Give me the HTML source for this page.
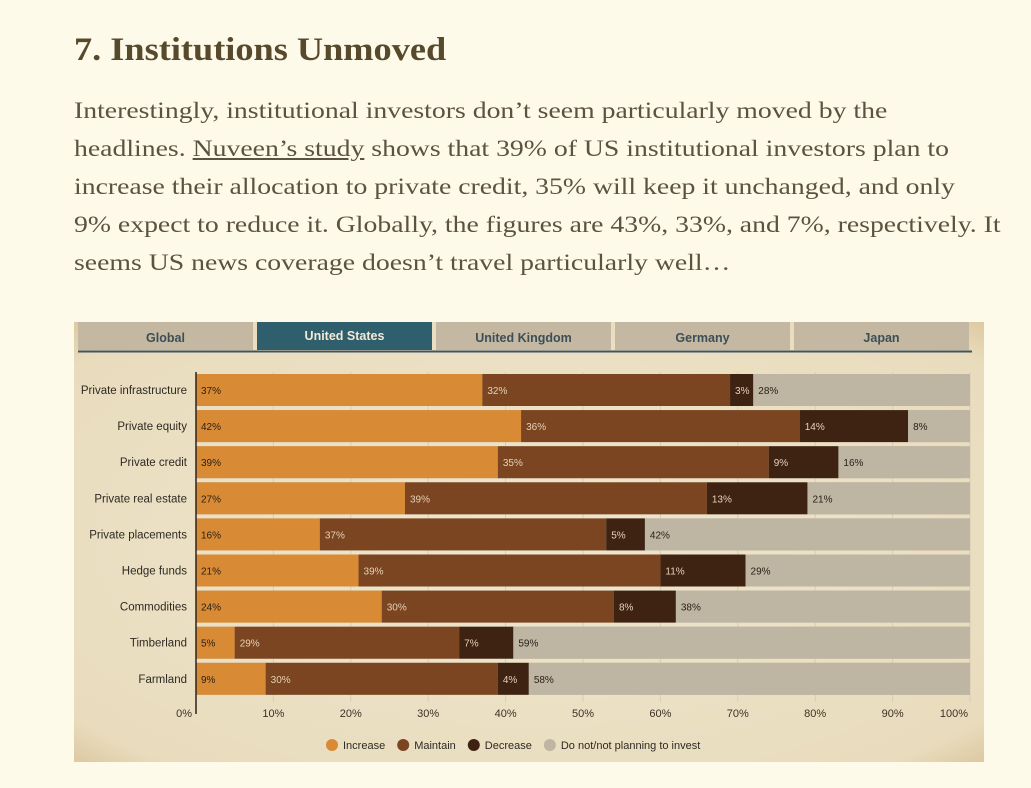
<!DOCTYPE html>
<html><head><meta charset="utf-8"><style>
body{margin:0;width:1031px;height:788px;background:#fefae9;overflow:hidden;font-family:"Liberation Serif",serif}
h2{position:absolute;left:74px;top:32px;margin:0;font-size:33px;font-weight:bold;color:#574a2c;font-family:"Liberation Serif",serif;white-space:nowrap;transform:scaleX(1.1);transform-origin:left top}
p{position:absolute;left:74px;top:92px;margin:0;line-height:38px;color:#5b5340;font-family:"Liberation Serif",serif;font-size:23.5px;white-space:nowrap;transform:scaleX(1.18);transform-origin:left top}
#chart{position:absolute;left:74px;top:322px}
</style></head><body>
<h2>7. Institutions Unmoved</h2>
<p>Interestingly, institutional investors don’t seem particularly moved by the<br>headlines. <u>Nuveen’s study</u> shows that 39% of US institutional investors plan to<br>increase their allocation to private credit, 35% will keep it unchanged, and only<br>9% expect to reduce it. Globally, the figures are 43%, 33%, and 7%, respectively. It<br>seems US news coverage doesn’t travel particularly well…</p>
<svg id="chart" width="910" height="440" font-family="Liberation Sans, sans-serif">
<defs><radialGradient id="bg" cx="50%" cy="50%" r="75%"><stop offset="0" stop-color="#efe6cf"/><stop offset="0.85" stop-color="#e9dcbd"/><stop offset="1" stop-color="#d6bd92"/></radialGradient></defs>
<rect width="910" height="440" fill="url(#bg)"/>
<g id="g"></g>
</svg>
<script>
const categories=["Private infrastructure","Private equity","Private credit","Private real estate","Private placements","Hedge funds","Commodities","Timberland","Farmland"];
const increase=[37,42,39,27,16,21,24,5,9];
const maintain=[32,36,35,39,37,39,30,29,30];
const decrease=[3,14,9,13,5,11,8,7,4];
const notInvest=[28,8,16,21,42,29,38,59,58];
const tabs=["Global","United States","United Kingdom","Germany","Japan"];
const ticks=[0,10,20,30,40,50,60,70,80,90,100];
const legendLabels=["Increase","Maintain","Decrease","Do not/not planning to invest"];
const colors=["#d88a35","#7a4520","#3e2313","#bfb5a3"];
const NS="http://www.w3.org/2000/svg";
const g=document.getElementById('g');
const x0=122,x1=896;
const xs=v=>x0+(x1-x0)*v/100;
const yc=i=>68+i*36.1;
function el(t,a,txt){const e=document.createElementNS(NS,t);for(const k in a)e.setAttribute(k,a[k]);if(txt!=null)e.textContent=txt;g.appendChild(e);return e;}
tabs.forEach((t,i)=>{const tx=4+i*179,w=175;
const r=el('rect',{x:tx,y:0,width:w,height:28,fill:i==1?'#2f5e6c':'#c4b8a3'});


const tt=el('text',{x:tx+w/2,y:i==1?18:20,'text-anchor':'middle','font-size':12.5,'font-weight':'bold',fill:i==1?'#f1ead8':'#3d4e55'},t);

});
el('line',{x1:4,x2:898,y1:29.5,y2:29.5,stroke:'#3d5560','stroke-width':2});
ticks.forEach(t=>{el('line',{x1:xs(t),x2:xs(t),y1:50,y2:380,stroke:'#d8ccb2','stroke-width':1});
const l=el('text',{x:xs(t)+(t==0?-4:t==100?-2:0),y:395,'text-anchor':t==0?'end':t==100?'end':'middle','font-size':11,fill:'#3a3226'},t+'%');

});
const series=[increase,maintain,decrease,notInvest];
categories.forEach((c,i)=>{const y=yc(i);
const lab=el('text',{x:113,y:y+4,'text-anchor':'end','font-size':11.5,fill:'#2e2a22'},c);


const tr=el('rect',{x:x0,y:y-16,width:x1-x0,height:32,fill:colors[3]});


let acc=0;
series.forEach((s,k)=>{const v=s[i];const a=xs(acc),b=xs(Math.min(100,acc+v));
const r=el('rect',{x:a,y:y-16,width:Math.max(0,b-a),height:32,fill:colors[k]});


const t=el('text',{x:a+5,y:y+4,'font-size':10,fill:k==0||k==3?'#2a2118':'#e6d3b8'},v+'%');


acc+=v;});});
el('line',{x1:x0,x2:x0,y1:50,y2:392,stroke:'#2a241c','stroke-width':1.5});
let lx=258;
legendLabels.forEach((l,k)=>{el('circle',{cx:lx,cy:423,r:6,fill:colors[k]});
const t=el('text',{x:lx+11,y:427,'font-size':11,fill:'#2e2a22'},l);


lx+=11+t.getComputedTextLength()+18;});
</script>
</body></html>
